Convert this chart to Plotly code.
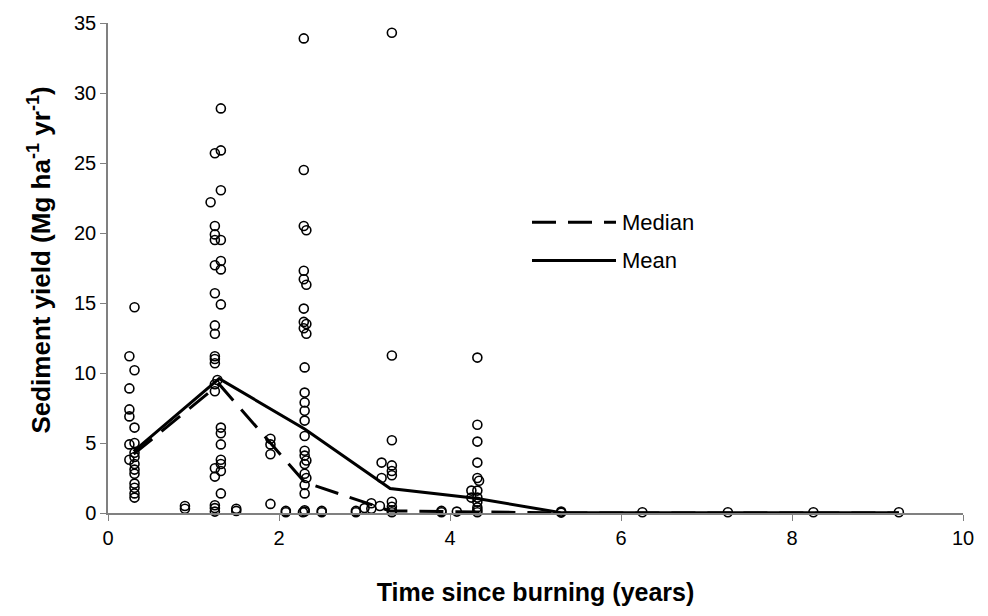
import plotly.graph_objects as go

# Scatter observations (time since burning, sediment yield)
obs_x = [
    0.31, 0.25, 0.31, 0.25, 0.25, 0.25, 0.31, 0.25, 0.31, 0.31, 0.31, 0.31, 0.25, 0.31, 0.31, 0.31, 0.31, 0.31, 0.31,
    0.9, 0.9,
    1.32, 1.25, 1.32, 1.32, 1.2, 1.25, 1.25, 1.25, 1.32, 1.32, 1.25, 1.32, 1.25, 1.32, 1.25, 1.25, 1.25, 1.25, 1.25,
    1.28, 1.25, 1.25, 1.32, 1.32, 1.32, 1.32, 1.32, 1.25, 1.32, 1.25, 1.32, 1.25, 1.25, 1.25,
    1.5, 1.5,
    1.9, 1.9, 1.9, 1.9,
    2.29, 2.29, 2.29, 2.32, 2.29, 2.29, 2.32, 2.29, 2.29, 2.32, 2.29, 2.32, 2.3, 2.3, 2.3, 2.3, 2.3, 2.3, 2.3, 2.3,
    2.32, 2.3, 2.3, 2.32, 2.3, 2.3, 2.3, 2.3, 2.28,
    2.08, 2.08, 2.5, 2.5, 2.9, 2.9,
    3.08, 3.08, 3.18, 3.0,
    3.32, 3.32, 3.32, 3.2, 3.32, 3.32, 3.32, 3.2, 3.32, 3.32, 3.32, 3.32,
    3.9, 3.9, 4.08,
    4.32, 4.32, 4.32, 4.32, 4.32, 4.34, 4.25, 4.32, 4.25, 4.32, 4.32, 4.32, 4.32, 4.32,
    5.3, 5.3, 6.25, 7.25, 8.25, 9.25,
]
obs_y = [
    14.7, 11.2, 10.2, 8.9, 7.4, 6.9, 6.1, 4.9, 5.0, 4.3, 4.0, 3.5, 3.8, 3.1, 2.8, 2.1, 1.8, 1.4, 1.1,
    0.5, 0.3,
    28.9, 25.7, 25.9, 23.05, 22.2, 20.5, 19.9, 19.5, 19.5, 18.0, 17.7, 17.4, 15.7, 14.9, 13.4, 12.8, 11.2, 11.0, 10.7,
    9.5, 9.2, 8.7, 6.1, 5.7, 4.9, 3.8, 3.5, 3.2, 3.0, 2.6, 1.4, 0.55, 0.35, 0.1,
    0.3, 0.15,
    5.3, 4.9, 4.2, 0.65,
    33.9, 24.5, 20.5, 20.2, 17.3, 16.7, 16.3, 14.6, 13.65, 13.5, 13.2, 12.8, 10.4, 8.6, 7.9, 7.3, 6.6, 5.5, 4.45, 4.1,
    3.75, 3.5, 2.8, 2.5, 2.0, 1.4, 0.2, 0.1, 0.05,
    0.15, 0.05, 0.15, 0.05, 0.15, 0.05,
    0.7, 0.3, 0.5, 0.35,
    34.3, 11.25, 5.2, 3.6, 3.4, 3.0, 2.7, 2.5, 0.8, 0.45, 0.2, 0.05,
    0.15, 0.05, 0.1,
    11.1, 6.3, 5.1, 3.6, 2.5, 2.3, 1.6, 1.6, 1.1, 1.1, 0.8, 0.4, 0.2, 0.05,
    0.1, 0.03, 0.05, 0.05, 0.05, 0.05,
]

# Annual summary lines
year_x = [0.3, 1.3, 2.3, 3.3, 4.3, 5.3, 6.25, 7.25, 8.25, 9.25]
mean_y = [4.4, 9.6, 6.0, 1.75, 1.05, 0.02, 0.02, 0.02, 0.02, 0.02]
median_y = [4.2, 9.2, 2.2, 0.15, 0.08, 0.0, 0.0, 0.0, 0.0, 0.0]

x_ticks = [0, 2, 4, 6, 8, 10]
y_ticks = [0, 5, 10, 15, 20, 25, 30, 35]

FONT = "Liberation Sans, Arial, sans-serif"
W, H = 988, 616
ML, MR, MT, MB = 108, 25, 16, 103

fig = go.Figure()
fig.add_trace(go.Scatter(
    x=obs_x, y=obs_y, mode="markers",
    marker=dict(symbol="circle-open", size=9, color="black", line=dict(width=1.6, color="black")),
    showlegend=False, cliponaxis=False,
))
fig.add_trace(go.Scatter(
    x=year_x, y=median_y, mode="lines", name="Median",
    line=dict(color="black", width=3, dash="24px,12px"), showlegend=False,
))
fig.add_trace(go.Scatter(
    x=year_x, y=mean_y, mode="lines", name="Mean",
    line=dict(color="black", width=3), showlegend=False,
))

pw = W - ML - MR
ph = H - MT - MB
def px(xpix):
    return (xpix - ML) / pw
def py(ypix):
    return 1 - (ypix - MT) / ph

# Custom legend
leg = [("Median", 218, "24px,12px"), ("Mean", 257, "solid")]
for label, ypix, dash in leg:
    fig.add_shape(type="line", xref="paper", yref="paper",
                  x0=px(532), x1=px(616), y0=py(ypix), y1=py(ypix),
                  line=dict(color="black", width=3, dash=dash))
    fig.add_annotation(xref="paper", yref="paper", x=px(620), y=py(ypix),
                       text=label, showarrow=False, xanchor="left", yanchor="middle",
                       font=dict(family=FONT, size=22, color="black"))

# Y-axis title placed as a rotated annotation
fig.add_annotation(xref="paper", yref="paper", x=px(40), y=py(257),
                   text="<b>Sediment yield (Mg ha<sup>-1</sup> yr<sup>-1</sup>)</b>",
                   textangle=-90, showarrow=False, xanchor="center", yanchor="middle",
                   font=dict(family=FONT, size=26, color="black"))

fig.update_layout(
    width=W, height=H,
    margin=dict(l=ML, r=MR, t=MT, b=MB),
    paper_bgcolor="white", plot_bgcolor="white",
    font=dict(family=FONT, size=20, color="black"),
    xaxis=dict(range=[0, 10], tickvals=x_ticks, showgrid=False, zeroline=False,
               showline=True, linecolor="#808080", linewidth=1.5, ticks="outside", ticklen=6,
               tickcolor="#808080", tickfont=dict(size=20),
               title=dict(text="<b>Time since burning (years)</b>", font=dict(size=25), standoff=36)),
    yaxis=dict(range=[0, 35], tickvals=y_ticks, showgrid=False, zeroline=False,
               showline=True, linecolor="#808080", linewidth=1.5, ticks="outside", ticklen=6,
               tickcolor="#808080", tickfont=dict(size=20)),
)

fig.write_html("out.html")
